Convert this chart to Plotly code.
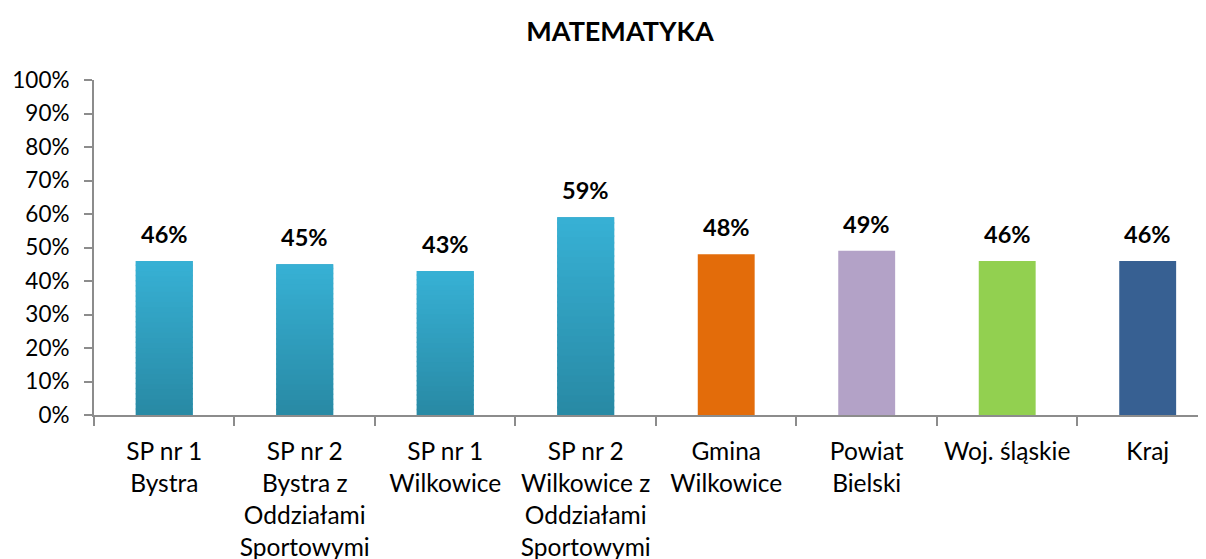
import plotly.graph_objects as go

categories = ["SP nr 1<br>Bystra", "SP nr 2<br>Bystra z<br>Oddziałami<br>Sportowymi",
              "SP nr 1<br>Wilkowice", "SP nr 2<br>Wilkowice z<br>Oddziałami<br>Sportowymi",
              "Gmina<br>Wilkowice", "Powiat<br>Bielski", "Woj. śląskie", "Kraj"]
values = [0.46, 0.45, 0.43, 0.59, 0.48, 0.49, 0.46, 0.46]
solid_colors = ["#2F9DBC", "#2F9DBC", "#2F9DBC", "#2F9DBC", "#E36C0A", "#B3A2C7", "#92D050", "#376092"]
gradient_count = 4  # first four bars use a vertical blue gradient
grad_bottom = (40, 137, 164)
grad_top = (55, 177, 213)
y_ticks = [i / 10 for i in range(11)]

FONT = "Lato"
BAR_W = 0.405

fig = go.Figure()

# base bars
fig.add_trace(go.Bar(x=categories, y=values, width=BAR_W,
                     marker=dict(color=solid_colors, line=dict(width=0)),
                     hoverinfo="skip", showlegend=False))

# gradient overlay for first bars
N = 30
gcats = categories[:gradient_count]
gvals = values[:gradient_count]
for k in range(N):
    t = (k + 0.5) / N
    col = tuple(round(grad_bottom[i] + (grad_top[i] - grad_bottom[i]) * t) for i in range(3))
    h = [v / N * (1.0 if k == N - 1 else 1.3) for v in gvals]
    fig.add_trace(go.Bar(x=gcats, y=h, base=[v * k / N for v in gvals], width=BAR_W,
                         marker=dict(color="rgb(%d,%d,%d)" % col, line=dict(width=0)),
                         hoverinfo="skip", showlegend=False))

for c, v in zip(categories, values):
    fig.add_annotation(x=c, y=v, text="<b>%d%%</b>" % round(v * 100), showarrow=False,
                       yanchor="middle", yshift=27,
                       font=dict(family=FONT, size=23.5, color="#000000"))

fig.update_layout(
    width=1206, height=559,
    margin=dict(l=86, r=0, t=72, b=152),
    paper_bgcolor="white", plot_bgcolor="white",
    barmode="overlay",
    title=dict(text="<b>MATEMATYKA</b>", x=612 / 1206, xanchor="center",
               y=1 - 24 / 559, yanchor="middle", yref="container",
               font=dict(family=FONT, size=27, color="#000000")),
    font=dict(family=FONT, size=22, color="#000000"),
    xaxis=dict(type="category", range=[-0.5, 7.472], showline=True, linecolor="#8C8C8C",
               linewidth=2, ticks="outside", ticklen=9, tickcolor="#8C8C8C", tickwidth=1.5,
               tickson="boundaries", showgrid=False, ticklabelstandoff=14, automargin=False,
               tickangle=0,
               tickfont=dict(family=FONT, size=24.5, color="#000000")),
    yaxis=dict(range=[0, 1], tickvals=y_ticks, tickformat=".0%", showline=True,
               linecolor="#8C8C8C", linewidth=2, ticks="outside", ticklen=8,
               tickcolor="#8C8C8C", tickwidth=1.5, showgrid=False, zeroline=False,
               ticklabelstandoff=10, automargin=False,
               tickfont=dict(family=FONT, size=22.5, color="#000000")),
)

fig.write_html("out.html")
